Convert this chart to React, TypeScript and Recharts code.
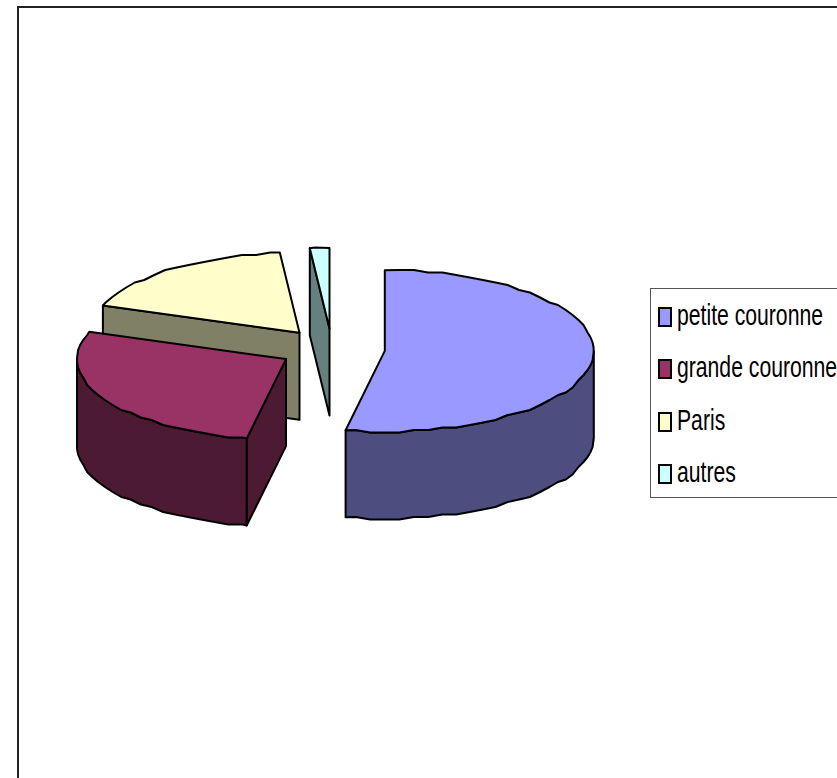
import { PieChart, Pie, Cell, Legend } from "recharts";

const categories = ["petite couronne", "grande couronne", "Paris", "autres"];
const shares = [53, 27.5, 18, 1.5];
const topColors = ["#9999FF", "#993366", "#FFFFCC", "#CCFFFF"];
const sideColors = ["#4D4D80", "#4D1A33", "#808066", "#668080"];

// drawn back to front, so the table runs backwards round the pie
const tableau = categories.map((name, i) => ({ name, value: shares[i], side: sideColors[i] })).reverse();
const topReversed = [...topColors].reverse();

const TILT = 0.386;
const DEPTH = 87;
const EXPLODE = 53;
const GRID = 2.5;
const rad = (d: number) => (d * Math.PI) / 180;

function Slice3D(props: any) {
  const { cx, cy, outerRadius: rx, startAngle, endAngle, fill, payload } = props;
  const side = payload.side;
  const ry = rx * TILT;
  // clock angles, 0 at the top, turning right
  const c0 = 450 - endAngle;
  const c1 = 450 - startAngle;
  const mid = rad((c0 + c1) / 2);
  const ox = cx + EXPLODE * Math.sin(mid);
  const oy = cy - EXPLODE * TILT * Math.cos(mid);
  const pt = (c: number): [number, number] => [ox + rx * Math.sin(rad(c)), oy - ry * Math.cos(rad(c))];

  // rough edge like the old export: a coarse arc with y snapped to a grid
  const arc = (a: number, b: number) => {
    const pts: [number, number][] = [pt(a)];
    for (let c = Math.ceil(a / 4 + 0.01) * 4; c < b - 0.5; c += 4) {
      const [x, y] = pt(c);
      pts.push([x, Math.round(y / GRID) * GRID]);
    }
    pts.push(pt(b));
    return pts;
  };
  const path = (pts: [number, number][]) => "M" + pts.map((p) => `${p[0].toFixed(1)},${p[1].toFixed(1)}`).join("L") + "Z";
  const down = (pts: [number, number][]) => pts.map((p) => [p[0], p[1] + DEPTH] as [number, number]);

  const common = { stroke: "#000", strokeWidth: 2, strokeLinejoin: "round" as const };
  const walls = [];

  const w0 = Math.max(c0, 90);
  const w1 = Math.min(c1, 270);
  if (w1 > w0) {
    const top = arc(w0, w1);
    walls.push(<path key="outer" d={path([...top, ...down(top).reverse()])} fill={side} {...common} />);
  }
  const cuts = [
    { angle: c0, normal: c0 - 90 },
    { angle: c1, normal: c1 + 90 },
  ];
  cuts.forEach((cut, i) => {
    if (-Math.cos(rad(cut.normal)) > 0.001) {
      const edge: [number, number][] = [[ox, oy], pt(cut.angle)];
      walls.push(<path key={`cut-${i}`} d={path([...edge, ...down(edge).reverse()])} fill={side} {...common} />);
    }
  });

  return (
    <g>
      {walls}
      <path d={path([[ox, oy], ...arc(c0, c1)])} fill={fill} {...common} />
    </g>
  );
}

function Legende() {
  return (
    <div style={{ border: "1px solid #555", height: 208, width: 220, boxSizing: "content-box", position: "relative", background: "#fff" }}>
      {categories.map((name, i) => (
        <div key={name} style={{ position: "absolute", left: 0, top: i * 52.4, height: 52, width: 220 }}>
          <span
            style={{
              position: "absolute",
              left: 7,
              top: 18,
              width: 10,
              height: 16,
              background: topColors[i],
              border: "2px solid #000",
            }}
          />
          <span
            style={{
              position: "absolute",
              left: 26,
              top: 10,
              lineHeight: "32px",
              fontFamily: "'Liberation Sans', sans-serif",
              fontSize: 29,
              color: "#000",
              whiteSpace: "nowrap",
              transform: "scaleX(0.73)",
              transformOrigin: "left center",
            }}
          >
            {name}
          </span>
        </div>
      ))}
    </div>
  );
}

export default function App() {
  return (
    <div style={{ position: "absolute", left: 0, top: 0, width: 837, height: 778, overflow: "hidden", background: "#fff" }}>
      <div style={{ position: "absolute", left: 17, top: 6, width: 900, height: 900, border: "2px solid #222" }} />
      <PieChart width={837} height={778} margin={{ top: 0, right: 0, bottom: 0, left: 0 }}>
        <Pie
          data={tableau}
          dataKey="value"
          nameKey="name"
          cx={332}
          cy={349}
          outerRadius={209}
          startAngle={90}
          endAngle={450}
          stroke="#000"
          shape={Slice3D}
          isAnimationActive={false}
        >
          {tableau.map((entry, idx) => (
            <Cell key={entry.name} fill={topReversed[idx]} />
          ))}
        </Pie>
        <Legend
          layout="vertical"
          align="right"
          verticalAlign="middle"
          content={<Legende />}
          wrapperStyle={{ left: 650, top: 288, width: 222, right: "auto", bottom: "auto" }}
        />
      </PieChart>
    </div>
  );
}
